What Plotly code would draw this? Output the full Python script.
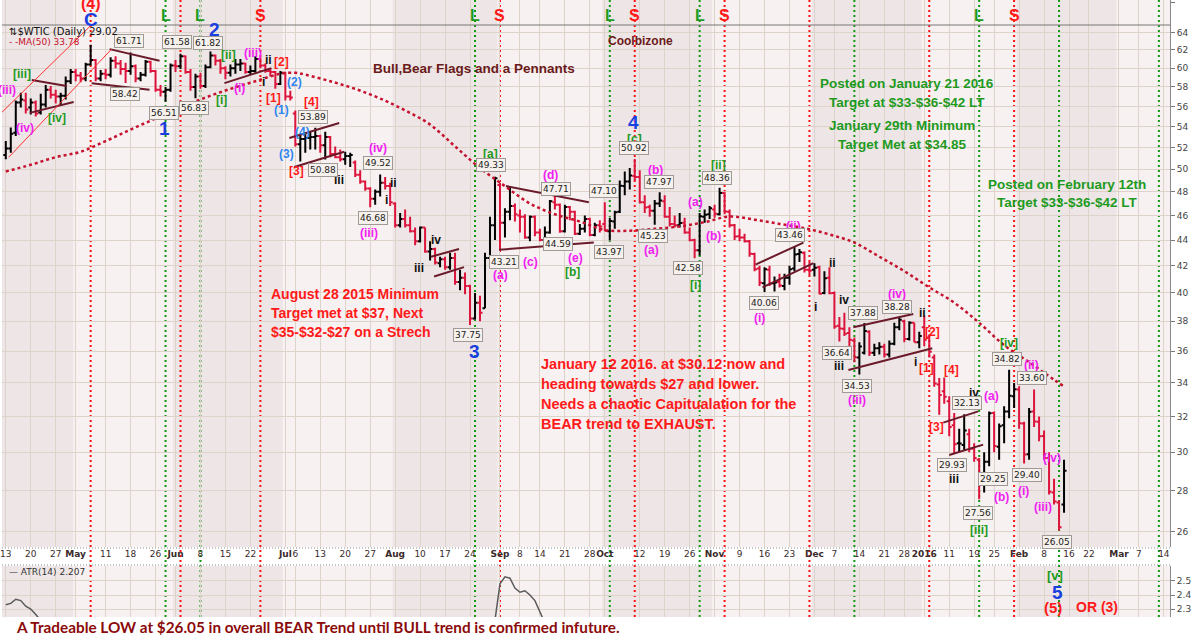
import math
import pandas as pd
import plotly.graph_objects as go

W, H = 1200, 636

# ---------------- trading calendar ----------------
holidays = ["2015-05-25", "2015-07-03", "2015-09-07", "2015-11-26",
            "2015-12-25", "2016-01-01", "2016-01-18", "2016-02-15"]
days = pd.bdate_range("2015-04-13", "2016-03-18", freq="C", holidays=holidays)


def idx(d):
    return days.get_loc(pd.Timestamp(d))


# ---------------- price data ($WTIC daily) ----------------
opens = [51.3, 51.9, 53.4, 56.4, 56.6, 55.9, 56.4, 55.4, 56.2, 57.7,
         57.2, 57.0, 57.1, 58.6, 59.6, 59.2, 58.9, 60.4, 60.9, 58.9,
         59.4, 59.3, 60.8, 60.5, 59.9, 59.7, 60.2, 58.9, 59.3, 60.7,
         59.7, 57.7, 57.5, 57.7, 60.3, 60.2, 61.3, 59.6, 58.0, 59.1,
         58.1, 60.1, 61.4, 60.8, 60.0, 59.5, 60.0, 60.4, 60.5, 59.6,
         59.7, 61.0, 60.3, 59.7, 59.6, 58.3, 59.5, 57.0, 55.3, 52.3,
         52.8, 52.9, 53.0, 53.1, 52.2, 53.0, 51.4, 51.1, 50.9, 51.2,
         50.6, 49.5, 48.9, 48.3, 47.4, 48.0, 48.8, 48.5, 47.0, 45.2,
         45.7, 45.2, 44.7, 43.9, 45.0, 43.1, 43.3, 42.2, 42.5, 41.9,
         42.6, 40.8, 41.1, 40.5, 38.2, 39.3, 38.9, 42.6, 45.2, 48.6,
         45.4, 46.3, 46.8, 46.0, 45.9, 44.2, 45.9, 44.6, 44.0, 44.6,
         47.1, 46.9, 44.7, 46.7, 46.3, 44.5, 44.9, 45.7, 44.4, 45.2,
         45.3, 44.7, 45.5, 46.3, 48.5, 48.9, 49.4, 49.3, 47.1, 46.7,
         46.4, 47.0, 47.2, 45.9, 45.3, 45.2, 45.4, 44.6, 44.0, 43.2,
         45.9, 46.1, 46.5, 46.1, 47.9, 46.3, 45.2, 44.3, 44.2, 43.9,
         42.9, 41.8, 40.7, 41.7, 40.7, 40.8, 40.5, 41.1, 41.8, 42.9,
         43.0, 41.7, 41.7, 41.9, 40.0, 41.1, 40.0, 37.7, 37.5, 37.2,
         36.7, 35.6, 35.9, 37.3, 35.9, 36.2, 36.3, 35.8, 36.5, 37.6,
         38.0, 36.8, 37.9, 36.6, 37.6, 36.9, 35.6, 33.9, 33.5, 32.9,
         31.5, 30.5, 30.4, 31.0, 30.2, 29.6, 28.4, 29.5, 32.2, 30.3,
         31.5, 32.3, 33.2, 33.6, 31.6, 29.9, 32.3, 31.7, 30.9, 29.7,
         27.9, 27.4, 27.3]
highs = [52.6, 53.9, 56.6, 57.4, 57.4, 56.8, 56.6, 57.3, 58.2, 58.1,
         57.7, 57.4, 59.1, 59.9, 59.9, 59.6, 60.6, 62.58, 61.0, 59.8,
         59.9, 61.2, 61.3, 60.9, 60.6, 61.71, 60.4, 59.6, 60.9, 60.8,
         59.8, 58.2, 58.0, 60.5, 60.9, 61.58, 61.4, 59.9, 59.4, 59.5,
         60.4, 61.82, 61.5, 61.0, 60.2, 60.4, 61.0, 61.0, 60.6, 60.3,
         61.3, 61.2, 60.5, 60.0, 59.7, 59.7, 59.6, 57.6, 55.6, 53.2,
         53.4, 53.5, 53.89, 53.2, 53.5, 53.1, 52.1, 51.8, 51.6, 51.5,
         50.8, 49.9, 49.0, 48.4, 48.2, 49.52, 49.3, 48.8, 47.1, 46.2,
         46.5, 45.9, 45.0, 45.1, 45.0, 43.9, 43.4, 42.7, 42.7, 43.0,
         43.0, 41.7, 41.5, 40.6, 40.0, 39.8, 43.0, 45.9, 49.33, 48.8,
         46.6, 48.5, 47.0, 46.5, 46.1, 46.0, 46.0, 44.9, 45.1, 47.3,
         47.71, 47.0, 46.9, 46.8, 46.4, 45.3, 46.0, 45.8, 45.4, 45.6,
         47.10, 45.8, 46.4, 49.0, 49.8, 50.1, 50.92, 49.9, 47.7, 46.9,
         47.3, 47.97, 47.7, 46.7, 46.0, 46.2, 45.8, 45.0, 44.1, 46.2,
         46.5, 46.8, 46.9, 48.36, 48.0, 46.5, 45.3, 44.9, 44.5, 44.0,
         43.0, 42.0, 41.9, 42.0, 41.2, 41.4, 41.4, 42.0, 43.46, 43.3,
         43.1, 42.3, 42.2, 42.0, 41.6, 41.9, 40.1, 38.3, 38.6, 37.6,
         36.9, 36.6, 37.88, 37.4, 36.5, 36.6, 36.5, 36.7, 37.9, 38.28,
         38.1, 38.0, 37.9, 37.3, 38.39, 37.1, 35.8, 34.3, 34.34, 33.2,
         32.2, 31.3, 32.13, 31.3, 30.5, 29.7, 30.0, 32.3, 32.3, 31.6,
         32.6, 34.82, 34.0, 33.8, 31.7, 32.5, 33.60, 32.0, 31.2, 30.0,
         28.6, 27.5, 29.6]
lows = [50.9, 51.5, 53.1, 55.9, 55.3, 55.2, 55.0, 55.2, 55.9, 56.8,
        56.3, 56.1, 56.7, 58.3, 58.6, 58.5, 58.6, 60.3, 58.6, 58.6,
        58.8, 59.0, 60.0, 59.3, 58.42, 59.3, 58.5, 58.6, 59.1, 59.5,
        57.5, 57.0, 56.51, 57.5, 59.6, 59.9, 59.4, 57.6, 56.83, 57.8,
        57.9, 60.0, 60.3, 59.4, 58.8, 59.1, 59.4, 59.7, 59.4, 59.3,
        59.5, 60.0, 59.5, 59.1, 57.8, 58.2, 56.6, 56.6, 52.1, 50.7,
        51.5, 51.8, 51.8, 51.5, 50.88, 51.1, 51.0, 50.7, 50.4, 50.2,
        49.3, 48.7, 48.1, 46.68, 46.9, 47.6, 48.2, 46.8, 45.0, 45.0,
        45.0, 44.6, 43.6, 43.8, 43.0, 42.4, 42.1, 41.9, 41.7, 41.7,
        40.6, 40.2, 39.9, 37.75, 38.1, 38.0, 38.9, 42.6, 44.0, 43.21,
        44.2, 45.6, 45.5, 44.6, 44.1, 43.9, 44.3, 43.9, 43.9, 44.5,
        46.5, 44.59, 44.6, 45.6, 44.4, 44.4, 44.6, 44.3, 44.3, 44.6,
        44.7, 43.97, 44.9, 46.2, 47.7, 48.2, 49.0, 47.0, 46.2, 45.9,
        45.23, 46.7, 45.8, 45.1, 45.0, 45.0, 44.5, 43.9, 42.58, 42.8,
        45.4, 45.7, 45.8, 46.0, 46.1, 45.0, 44.0, 43.9, 43.8, 42.7,
        41.6, 40.5, 40.06, 40.5, 40.1, 40.4, 40.2, 40.6, 41.6, 42.3,
        41.5, 41.3, 41.2, 39.9, 39.9, 39.9, 37.5, 36.64, 37.0, 36.3,
        35.3, 34.53, 35.8, 35.7, 35.7, 35.8, 35.6, 35.6, 36.4, 37.4,
        36.6, 36.7, 36.6, 36.2, 36.33, 35.6, 33.77, 32.10, 32.75, 30.88,
        29.93, 30.0, 30.1, 30.0, 29.5, 27.56, 27.9, 29.25, 30.0, 29.6,
        30.5, 31.9, 32.5, 31.3, 29.40, 29.6, 31.4, 30.6, 29.6, 27.8,
        27.3, 26.05, 26.9]
closes = [51.9, 53.3, 56.4, 56.7, 55.7, 56.4, 55.3, 56.2, 57.7, 57.2,
          57.0, 57.1, 58.6, 59.6, 59.2, 58.9, 60.4, 60.9, 58.9, 59.4,
          59.3, 60.8, 60.5, 59.9, 59.7, 60.2, 58.9, 59.3, 60.7, 59.7,
          57.7, 57.5, 57.7, 60.3, 60.2, 61.3, 59.6, 58.0, 59.1, 58.1,
          60.1, 61.4, 60.8, 60.0, 59.5, 60.0, 60.4, 60.5, 59.6, 59.7,
          61.0, 60.3, 59.7, 59.6, 58.3, 59.5, 57.0, 56.9, 52.3, 52.8,
          52.9, 53.0, 53.1, 52.2, 53.0, 51.4, 51.1, 50.9, 51.2, 51.3,
          49.5, 48.9, 48.3, 47.4, 48.0, 48.8, 48.5, 47.1, 45.2, 45.7,
          45.2, 44.7, 43.9, 45.0, 43.1, 43.3, 42.25, 42.5, 41.9, 42.6,
          40.8, 41.1, 40.5, 38.2, 39.3, 38.6, 42.6, 45.2, 49.2, 45.4,
          46.3, 46.8, 46.1, 45.9, 44.2, 45.9, 44.6, 44.0, 44.6, 47.2,
          46.9, 44.7, 46.7, 46.3, 44.5, 44.9, 45.7, 44.4, 45.2, 45.1,
          44.74, 45.54, 46.26, 48.53, 48.9, 49.43, 49.3, 47.1, 46.66, 46.4,
          47.0, 47.26, 45.89, 45.29, 45.2, 45.38, 44.6, 43.98, 43.2, 45.94,
          46.06, 46.59, 46.14, 47.9, 46.32, 45.2, 44.29, 44.21, 43.9, 42.93,
          41.75, 40.74, 41.74, 40.67, 40.75, 40.54, 41.1, 41.75, 42.87, 43.04,
          41.71, 41.65, 41.85, 39.94, 41.08, 39.97, 37.65, 37.51, 37.16, 36.76,
          35.62, 36.31, 37.35, 35.9, 36.2, 36.3, 35.8, 36.5, 37.6, 38.1,
          36.8, 37.9, 36.6, 37.0, 36.76, 35.97, 33.97, 33.27, 33.16, 31.41,
          30.44, 30.48, 31.2, 30.2, 29.7, 28.4, 29.5, 32.19, 30.34, 31.45,
          32.3, 33.22, 33.62, 31.62, 29.88, 32.28, 31.72, 30.89, 29.69, 27.94,
          27.45, 26.21, 29.02]

# 50-day moving average (bar index, value)
ma_idx = [0, 5, 10, 15, 20, 25, 30, 35, 40, 45, 50, 55, 58, 60, 65, 70, 75,
          80, 85, 90, 95, 100, 105, 110, 115, 120, 125, 130, 135, 140, 145,
          150, 155, 160, 165, 170, 175, 180, 185, 190, 195, 200, 205, 210, 212]
ma_val = [49.8, 50.4, 51.1, 51.6, 52.6, 53.7, 54.8, 55.9, 56.9, 57.8, 58.6,
          59.4, 59.5, 59.3, 58.6, 57.8, 56.8, 55.6, 54.2, 52.1, 50.1, 48.5,
          47.0, 46.1, 45.5, 44.8, 44.75, 44.9, 45.1, 45.45, 45.9, 45.65, 45.3,
          44.95, 44.45, 43.8, 42.7, 41.6, 40.4, 39.3, 37.9, 36.4, 35.3, 34.2,
          33.78]

# ATR(14): only the parts that rise into the visible panel
atr_idx = [0, 1, 2, 3, 4, 5, 6, 7, None, 98, 99, 100, 101, 102, 103, 104,
           105, 106, 107, 108]
atr_val = [2.33, 2.34, 2.37, 2.36, 2.32, 2.30, 2.26, 2.22, None, 2.22, 2.48,
           2.53, 2.52, 2.45, 2.42, 2.43, 2.40, 2.36, 2.28, 2.20]

# x-axis tick labels
tick_dates = ["2015-04-13", "2015-04-20", "2015-04-27", "2015-05-01", "2015-05-11",
              "2015-05-18", "2015-05-26", "2015-06-01", "2015-06-08", "2015-06-15",
              "2015-06-22", "2015-07-01", "2015-07-06", "2015-07-13", "2015-07-20",
              "2015-07-27", "2015-08-03", "2015-08-10", "2015-08-17", "2015-08-24",
              "2015-09-01", "2015-09-08", "2015-09-14", "2015-09-21", "2015-09-28",
              "2015-10-01", "2015-10-12", "2015-10-19", "2015-10-26", "2015-11-02",
              "2015-11-09", "2015-11-16", "2015-11-23", "2015-12-01", "2015-12-07",
              "2015-12-14", "2015-12-21", "2015-12-28", "2016-01-04", "2016-01-11",
              "2016-01-19", "2016-01-25", "2016-02-01", "2016-02-08", "2016-02-16",
              "2016-02-22", "2016-03-01", "2016-03-07", "2016-03-14"]
tick_text = ["13", "20", "27", "May", "11", "18", "26", "Jun", "8", "15", "22",
             "Jul", "6", "13", "20", "27", "Aug", "10", "17", "24", "Sep", "8",
             "14", "21", "28", "Oct", "12", "19", "26", "Nov", "9", "16", "23",
             "Dec", "7", "14", "21", "28", "2016", "11", "19", "25", "Feb", "8",
             "16", "22", "Mar", "7", "14"]
price_ticks = list(range(26, 65, 2))
atr_ticks = [2.3, 2.4, 2.5]

# buy / sell signal dates
long_dates = ["2015-05-28", "2015-06-08", "2015-08-25", "2015-10-02", "2015-10-28", "2016-01-20"]
short_dates = ["2015-06-24", "2015-09-01", "2015-10-09", "2015-11-04", "2016-01-29"]
green_only = ["2015-12-11", "2016-02-11", "2016-03-11"]
red_only = ["2015-05-06", "2015-06-02", "2015-11-30", "2016-01-05"]

# pattern trend lines (bar index, price) pairs
flag_lines = [(5.2, 58.74, 12.2, 58.1), (4.8, 55.35, 13.6, 56.45),
              (20.8, 62.1, 30.8, 60.8), (17.2, 58.4, 28.8, 57.7),
              (43.8, 58.4, 53.2, 60.0), (56.8, 52.9, 66.8, 54.35),
              (57.8, 50.2, 67.8, 51.6), (85.2, 42.7, 90.8, 43.3),
              (85.8, 41.2, 91.8, 41.9), (100.2, 48.5, 116.8, 47.1),
              (98.8, 43.24, 117.8, 43.8), (150.2, 42.1, 159.8, 43.8),
              (151.6, 40.4, 161.8, 42.2), (169.8, 37.6, 181.8, 38.5),
              (168.8, 34.8, 185.6, 36.2), (187.8, 31.65, 194.8, 32.3),
              (189.0, 29.86, 195.8, 30.42)]
channel_lines = [(-0.8, 55.4, 17.2, 64.9), (0.6, 51.1, 21.2, 62.1)]

# Elliott-wave labels: text, bar index, price, colour key, size
G, R, M, B, LB, K = "#1E9A1E", "#FF1A1A", "#F020F0", "#1A3FE0", "#2E86F0", "#111111"
wave_labels = [
    ("[iii]", 3.2, 59.4, G, 12), ("(iii)", 0.3, 57.7, M, 12), ("(iv)", 3.8, 53.9, M, 12),
    ("[iv]", 10.2, 54.8, G, 12), ("1", 31.8, 53.8, B, 19), ("2", 41.8, 64.3, B, 19),
    ("[ii]", 44.6, 61.4, G, 12), ("(iii)", 49.6, 61.7, M, 12), ("[i]", 43.2, 56.7, G, 12),
    ("(i)", 46.8, 57.9, M, 12), ("i", 51.6, 58.5, K, 12), ("ii", 52.6, 60.9, K, 12),
    ("[2]", 55.2, 60.7, R, 12), ("[1]", 53.6, 56.9, R, 12), ("(2)", 57.8, 58.5, LB, 12),
    ("(1)", 55.2, 55.65, LB, 12), ("(3)", 56.2, 51.4, LB, 12), ("[4]", 61.2, 56.4, R, 12),
    ("(4)", 59.4, 53.5, LB, 12), ("[3]", 58.2, 49.8, R, 12), ("iii", 66.8, 49.05, K, 12),
    ("(iv)", 74.6, 51.95, M, 12), ("ii", 77.6, 48.8, K, 12), ("i", 76.2, 47.3, K, 12),
    ("(iii)", 72.8, 44.6, M, 12), ("iv", 86.2, 44.0, K, 12), ("iii", 82.8, 41.85, K, 12),
    ("3", 93.8, 35.97, B, 19), ("[a]", 97.2, 51.4, G, 12), ("(a)", 99.2, 41.3, M, 12),
    ("(c)", 105.2, 42.3, M, 12), ("(d)", 109.2, 49.5, M, 12), ("(e)", 114.2, 42.6, M, 12),
    ("[b]", 113.6, 41.5, G, 12), ("4", 125.8, 54.35, B, 19), ("[c]", 126.0, 52.8, G, 12),
    ("(a)", 129.4, 43.2, M, 12), ("(b)", 130.2, 49.9, M, 12), ("(a)", 138.2, 47.1, M, 12),
    ("(b)", 141.8, 44.3, M, 12), ("[i]", 138.2, 40.6, G, 12), ("[ii]", 142.8, 50.4, G, 12),
    ("(i)", 151.0, 38.2, M, 12), ("(ii)", 157.8, 45.15, M, 12), ("ii", 165.6, 42.2, K, 12),
    ("i", 162.2, 39.0, K, 12), ("iv", 168.0, 39.5, K, 12), ("(iv)", 178.6, 39.9, M, 12),
    ("ii", 183.6, 38.6, K, 12), ("[2]", 185.6, 37.3, R, 12), ("iii", 167.0, 35.07, K, 12),
    ("(iii)", 170.6, 33.0, M, 12), ("i", 182.2, 35.3, K, 12), ("[1]", 184.4, 34.95, R, 12),
    ("[4]", 189.4, 34.8, R, 12), ("[3]", 186.4, 31.4, R, 12), ("iv", 194.0, 33.4, K, 12),
    ("(a)", 197.4, 33.2, M, 12), ("iii", 190.0, 28.6, K, 12), ("(b)", 199.4, 27.7, M, 12),
    ("[iii]", 195.0, 26.1, G, 12), ("[iv]", 201.0, 36.55, G, 12), ("(ii)", 205.4, 35.13, M, 12),
    ("(i)", 203.8, 28.0, M, 12), ("(iv)", 209.6, 29.7, M, 12), ("(iii)", 207.8, 27.2, M, 12),
]

# pivot value boxes: value, bar index, price where the box sits
pivot_boxes = [(61.71, 24.6, 63.0), (58.42, 23.8, 57.27), (56.51, 31.6, 55.35),
               (61.58, 34.2, 62.9), (61.82, 40.6, 62.8), (56.83, 37.8, 55.85),
               (53.89, 61.6, 54.95), (50.88, 63.6, 49.94), (49.52, 74.6, 50.6),
               (46.68, 73.6, 45.8), (37.75, 92.6, 37.1), (49.33, 97.2, 50.4),
               (43.21, 99.8, 42.3), (47.71, 110.2, 48.25), (44.59, 110.6, 43.7),
               (47.10, 119.8, 48.1), (43.97, 120.8, 43.1), (50.92, 125.8, 51.95),
               (47.97, 130.8, 48.9), (45.23, 129.6, 44.3), (42.58, 136.6, 41.85),
               (48.36, 142.4, 49.2), (40.06, 151.8, 39.3), (43.46, 157.2, 44.4),
               (37.88, 171.8, 38.6), (38.28, 178.6, 39.0), (36.64, 166.6, 35.9),
               (34.53, 170.6, 33.8), (32.13, 192.6, 32.8), (29.93, 189.6, 29.3),
               (29.25, 197.8, 28.6), (27.56, 194.8, 26.9), (34.82, 200.6, 35.5),
               (33.60, 205.6, 34.3), (29.40, 204.6, 28.8), (26.05, 210.6, 25.5)]


# ---------------- layout helpers ----------------
def py(px):
    return 1 - px / H


X_RIGHT = 1170 / W
X_RANGE = [-0.76, 233.24]
MAIN_TOP, MAIN_BOT = 25, 547
ATR_TOP, ATR_BOT = 566, 617
P_TOP, P_BOT = 64.86, 25.29

BG_LIGHT = "#F8F1F1"
BG_DARK = "#EEE6E6"
GRID = "#DED3CA"
BAR_RED = "#DC143C"

fig = go.Figure()

# bars coloured by close versus previous close
prev = [opens[0]] + closes[:-1]
xs = list(range(len(closes)))
for up, col in ((True, "#000000"), (False, BAR_RED)):
    sel = [i for i in xs if (closes[i] >= prev[i]) == up]
    fig.add_trace(go.Ohlc(
        x=sel, open=[opens[i] for i in sel], high=[highs[i] for i in sel],
        low=[lows[i] for i in sel], close=[closes[i] for i in sel],
        increasing=dict(line=dict(color=col, width=2)),
        decreasing=dict(line=dict(color=col, width=2)),
        tickwidth=0.5, showlegend=False, hoverinfo="skip",
        xaxis="x", yaxis="y"))

# moving average
fig.add_trace(go.Scatter(x=ma_idx, y=ma_val, mode="lines",
                         line=dict(color="#C4122F", width=2.5, dash="3px,3px", shape="spline"),
                         showlegend=False, hoverinfo="skip", xaxis="x", yaxis="y"))

# trend lines
for (a, pa, b, pb) in flag_lines:
    fig.add_trace(go.Scatter(x=[a, b], y=[pa, pb], mode="lines",
                             line=dict(color="#6B1A2A", width=2),
                             showlegend=False, hoverinfo="skip", xaxis="x", yaxis="y"))
for (a, pa, b, pb) in channel_lines:
    fig.add_trace(go.Scatter(x=[a, b], y=[pa, pb], mode="lines",
                             line=dict(color="#FF3030", width=1),
                             showlegend=False, hoverinfo="skip", xaxis="x", yaxis="y"))

# ATR
fig.add_trace(go.Scatter(x=atr_idx, y=atr_val, mode="lines",
                         line=dict(color="#5A5A5A", width=1.5), connectgaps=False,
                         showlegend=False, hoverinfo="skip", xaxis="x2", yaxis="y2"))

# ---------------- shapes ----------------
shapes = []
month_starts = ["2015-04-13", "2015-05-01", "2015-06-01", "2015-07-01", "2015-08-03",
                "2015-09-01", "2015-10-01", "2015-11-02", "2015-12-01", "2016-01-04",
                "2016-02-01", "2016-03-01", "2016-03-18"]
for k in range(0, len(month_starts) - 1, 2):
    x0 = idx(month_starts[k]) - 0.5 if k else -1
    x1 = idx(month_starts[k + 1]) - 0.5
    for (t, b) in ((0, MAIN_BOT), (ATR_TOP, ATR_BOT)):
        shapes.append(dict(type="rect", xref="x", yref="paper", x0=x0, x1=x1,
                           y0=py(b), y1=py(t), fillcolor=BG_DARK, line=dict(width=0),
                           layer="below"))
# date band
shapes.append(dict(type="rect", xref="paper", yref="paper", x0=0, x1=X_RIGHT,
                   y0=py(ATR_TOP), y1=py(MAIN_BOT), fillcolor="white",
                   line=dict(width=0), layer="below"))
for yy in (MAIN_BOT + 1, ATR_TOP - 1):
    shapes.append(dict(type="line", xref="paper", yref="paper", x0=0, x1=X_RIGHT,
                       y0=py(yy), y1=py(yy), line=dict(color="#8A8A8A", width=1, dash="1px,2px"),
                       layer="above"))
# panel separator under the top strip
shapes.append(dict(type="line", xref="paper", yref="paper", x0=0, x1=X_RIGHT,
                   y0=py(MAIN_TOP), y1=py(MAIN_TOP), line=dict(color="#777777", width=1),
                   layer="above"))
# signal lines
for d in long_dates + green_only:
    shapes.append(dict(type="line", xref="x", yref="paper", x0=idx(d), x1=idx(d),
                       y0=py(ATR_BOT), y1=1, line=dict(color="#119911", width=2, dash="2px,3px"),
                       layer="below"))
for d in short_dates + red_only:
    shapes.append(dict(type="line", xref="x", yref="paper", x0=idx(d), x1=idx(d),
                       y0=py(ATR_BOT), y1=1, line=dict(color="#FF1010", width=2, dash="2px,3px"),
                       layer="below"))

# ---------------- annotations ----------------
ann = []
BOLD = "Liberation Sans"
for (t, i, p, c, s) in wave_labels:
    ann.append(dict(x=i, y=math.log10(p), xref="x", yref="y", text="<b>%s</b>" % t,
                    showarrow=False, font=dict(family=BOLD, size=s, color=c)))
for (v, i, p) in pivot_boxes:
    ann.append(dict(x=i, y=math.log10(p), xref="x", yref="y", text="%.2f" % v,
                    showarrow=False, font=dict(family="DejaVu Sans", size=9, color="#222222"),
                    bgcolor="#F6F1EC", bordercolor="#A09A96", borderwidth=1, borderpad=1))


def paper_text(x, y, text, size, color, family=BOLD, xref="x", xanchor="center"):
    ann.append(dict(x=x, y=py(y), xref=xref, yref="paper", text=text, showarrow=False,
                    xanchor=xanchor, yanchor="middle",
                    font=dict(family=family, size=size, color=color)))


for d in long_dates:
    paper_text(idx(d), 15, "<b>L</b>", 16, "#1E9A1E")
for d in short_dates:
    paper_text(idx(d), 15, "<b>S</b>", 16, "#FF1A1A")
paper_text(idx("2015-05-06"), 19, "<b>C</b>", 19, B)
paper_text(idx("2015-05-06"), 4, "<b>(4)</b>", 16, R)


def text_block(lines, i, p0, step_px, color, size, anchor="left"):
    for n, line in enumerate(lines):
        ann.append(dict(x=i, y=math.log10(p0), yshift=-n * step_px, xref="x", yref="y",
                        text="<b>%s</b>" % line, showarrow=False, xanchor=anchor,
                        font=dict(family=BOLD, size=size, color=color)))


text_block(["August 28 2015 Minimum", "Target met at $37, Next", "$35-$32-$27 on a Strech"],
           52.8, 39.9, 19, "#FF1A1A", 14)
text_block(["January 12 2016. at $30.12 now and", "heading towards $27 and lower.",
            "Needs a chaotic Capitualation for the", "BEAR trend to EXHAUST."],
           106.8, 35.2, 20, "#FF1A1A", 14.5)
text_block(["Posted on January 21 2016", "Target at $33-$36-$42 LT"], 180.6, 58.4, 19,
           "#1E9A1E", 13.5, "center")
text_block(["January 29th Minimum", "Target Met at $34.85"], 179.6, 54.1, 19,
           "#1E9A1E", 13.5, "center")
text_block(["Posted on February 12th", "Target $33-$36-$42 LT"], 212.6, 48.6, 18,
           "#1E9A1E", 13.5, "center")
text_block(["Bull,Bear Flags and a Pennants"], 93.8, 60.0, 0, "#6B1A1A", 13.5, "center")
text_block(["Coolbizone"], 127.2, 63.0, 0, "#6B1A1A", 12, "center")

# legend-like titles
paper_text(0.004, 32, "\u21c5$WTIC (Daily) 29.02", 10, "#111111", "DejaVu Sans", "paper", "left")
paper_text(0.004, 42, "- -MA(50) 33.78", 9, "#C4122F", "DejaVu Sans", "paper", "left")
paper_text(0.004, 572, "\u2014 ATR(14) 2.207", 9, "#333333", "DejaVu Sans", "paper", "left")
# wave 5 labels at the bottom
paper_text(210.2, 575, "<b>[v]</b>", 13, G)
paper_text(210.6, 592, "<b>5</b>", 19, B)
paper_text(209.7, 607, "<b>(5)</b>", 15, R)
paper_text(218.6, 607, "<b>OR (3)</b>", 14, R)
paper_text(0.01, 627,
           "<b>A Tradeable LOW at $26.05 in overall BEAR Trend until BULL trend is confirmed infuture.</b>",
           15.3, "#8B0A0A", "Lato", "paper", "left")

# ---------------- axes ----------------
tickvals = [idx(d) for d in tick_dates]
ticktext = [("<b>%s</b>" % t) if (not t.isdigit() or t == "2016") else t for t in tick_text]
common_x = dict(range=X_RANGE, domain=[0, X_RIGHT], tickvals=tickvals, showgrid=True,
                gridcolor=GRID, gridwidth=1, zeroline=False, showline=False, ticks="")

fig.update_layout(
    width=W, height=H, margin=dict(l=0, r=0, t=0, b=0),
    paper_bgcolor="white", plot_bgcolor=BG_LIGHT, showlegend=False,
    xaxis=dict(**common_x, anchor="y", ticktext=ticktext, showticklabels=True,
               tickangle=0, ticklabeloverflow="allow",
               tickfont=dict(family="DejaVu Sans", size=9, color="#3A2A2A"),
               rangeslider=dict(visible=False)),
    yaxis=dict(domain=[py(MAIN_BOT), py(MAIN_TOP)], type="log",
               range=[math.log10(P_BOT), math.log10(P_TOP)], side="right", anchor="x",
               tickvals=price_ticks, ticktext=[str(v) for v in price_ticks],
               ticks="outside", ticklen=4, tickcolor="#777777",
               tickfont=dict(family="DejaVu Sans", size=9, color="#444444"),
               showgrid=True, gridcolor=GRID, zeroline=False,
               showline=True, linecolor="#8A8A8A", mirror=False),
    xaxis2=dict(**common_x, anchor="y2", matches="x", showticklabels=False),
    yaxis2=dict(domain=[py(ATR_BOT), py(ATR_TOP)], range=[2.243, 2.607], side="right",
                anchor="x2", tickvals=atr_ticks, ticktext=["2.3", "2.4", "2.5"],
                ticks="outside", ticklen=4, tickcolor="#777777",
                tickfont=dict(family="DejaVu Sans", size=9, color="#444444"),
                showgrid=True, gridcolor=GRID, zeroline=False,
                showline=True, linecolor="#8A8A8A"),
    xaxis3=dict(**common_x, anchor="y3", matches="x", showticklabels=False),
    yaxis3=dict(domain=[py(MAIN_TOP), 1], range=[5, 10.6], side="right", anchor="x3",
                tickvals=[10], ticktext=["10"], ticks="outside", ticklen=4,
                tickcolor="#777777", tickfont=dict(family="DejaVu Sans", size=9, color="#444444"),
                showgrid=False, zeroline=False, showline=True, linecolor="#8A8A8A"),
    shapes=shapes, annotations=ann,
)
# dummy trace so the top strip axes render
fig.add_trace(go.Scatter(x=[None], y=[None], xaxis="x3", yaxis="y3", showlegend=False))

fig.write_html("out.html")
